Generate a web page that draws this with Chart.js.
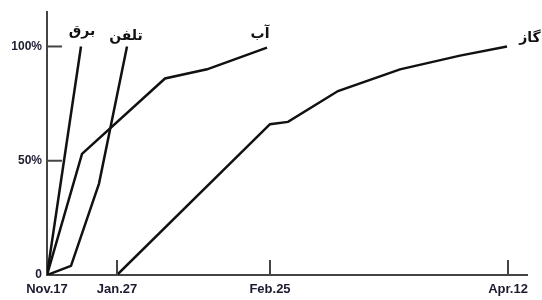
<!DOCTYPE html>
<html>
<head>
<meta charset="utf-8">
<script src="https://cdn.jsdelivr.net/npm/chart.js@4"></script>
<style>
  html, body { margin: 0; padding: 0; background: #fff; }
  #wrap { width: 542px; height: 300px; }
</style>
</head>
<body>
<div id="wrap"><canvas id="chart"></canvas></div>
<script>
// axis positions (not to scale in the original, so x is an abstract unit)
const tickPos = [0, 70, 223, 461];
const tickLabels = ['Nov.17', 'Jan.27', 'Feb.25', 'Apr.12'];
const yTicks = [0, 50, 100];

const seriesNames = ['برق', 'تلفن', 'آب', 'گاز'];

// percent complete
const barqX = [0, 34];
const barqY = [0, 100];
const telX = [0, 24, 52, 80];
const telY = [0, 4, 40, 100];
const abX = [0, 35, 118, 160, 220];
const abY = [0, 53, 86, 90, 99.5];
const gazX = [70, 223, 241, 291, 353, 413, 460];
const gazY = [0, 66, 67, 80.5, 90, 96, 100];

const toPoints = (xs, ys) => xs.map((x, i) => ({ x: x, y: ys[i] }));

// label offsets from each line's last point
const labelOffsets = [[1, -15], [-1, -10], [-7, -13], [23, -8]];

const extras = {
    id: 'extras',
    afterDraw(chart) {
        const ctx = chart.ctx;
        const xs = chart.scales.x, ys = chart.scales.y;
        ctx.save();
        ctx.strokeStyle = '#444';
        ctx.lineWidth = 2;
        // inward tick marks
        [50, 100].forEach(v => {
            const py = ys.getPixelForValue(v);
            ctx.beginPath();
            ctx.moveTo(xs.left, py);
            ctx.lineTo(xs.left + 15, py);
            ctx.stroke();
        });
        tickPos.slice(1).forEach(v => {
            const px = xs.getPixelForValue(v);
            ctx.beginPath();
            ctx.moveTo(px, ys.bottom);
            ctx.lineTo(px, ys.bottom - 15);
            ctx.stroke();
        });
        // series names at the end of each line
        ctx.fillStyle = '#111';
        ctx.font = 'bold 14px "DejaVu Sans"';
        ctx.textAlign = 'center';
        ctx.textBaseline = 'middle';
        chart.data.datasets.forEach((ds, i) => {
            const last = ds.data[ds.data.length - 1];
            const px = xs.getPixelForValue(last.x) + labelOffsets[i][0];
            const py = ys.getPixelForValue(last.y) + labelOffsets[i][1];
            ctx.fillText(ds.label, px, py);
        });
        ctx.restore();
    }
};

const lineStyle = {
    borderColor: '#111',
    borderWidth: 2.5,
    pointRadius: 0,
    tension: 0,
    fill: false
};

new Chart(document.getElementById('chart'), {
    type: 'line',
    data: {
        datasets: [
            { label: seriesNames[0], data: toPoints(barqX, barqY), ...lineStyle },
            { label: seriesNames[1], data: toPoints(telX, telY), ...lineStyle },
            { label: seriesNames[2], data: toPoints(abX, abY), ...lineStyle },
            { label: seriesNames[3], data: toPoints(gazX, gazY), ...lineStyle }
        ]
    },
    options: {
        responsive: true,
        maintainAspectRatio: false,
        animation: false,
        layout: { padding: { top: 9, right: 15, left: 0, bottom: 0 } },
        plugins: {
            legend: { display: false },
            tooltip: { enabled: false }
        },
        scales: {
            x: {
                type: 'linear',
                min: 0,
                max: 480,
                afterFit: s => { s.height = 25; },
                afterBuildTicks: s => { s.ticks = tickPos.map(v => ({ value: v })); },
                grid: { display: true, drawOnChartArea: false, drawTicks: false, color: 'transparent' },
                border: { display: true, color: '#444', width: 2 },
                ticks: {
                    padding: 7,
                    color: '#1c1c30',
                    font: { family: '"Liberation Sans", Arial', size: 13, weight: 'bold' },
                    callback: (v, i) => tickLabels[i]
                }
            },
            y: {
                min: 0,
                max: 115,
                afterFit: s => { s.width = 47; },
                afterBuildTicks: s => { s.ticks = yTicks.map(v => ({ value: v })); },
                grid: { display: true, drawOnChartArea: false, drawTicks: false, color: 'transparent' },
                border: { display: true, color: '#444', width: 2 },
                ticks: {
                    padding: 5,
                    color: '#1c1c30',
                    font: { family: '"Liberation Sans", Arial', size: 12, weight: 'bold' },
                    callback: v => v === 0 ? '0' : v + '%'
                }
            }
        }
    },
    plugins: [extras]
});
</script>
</body>
</html>
